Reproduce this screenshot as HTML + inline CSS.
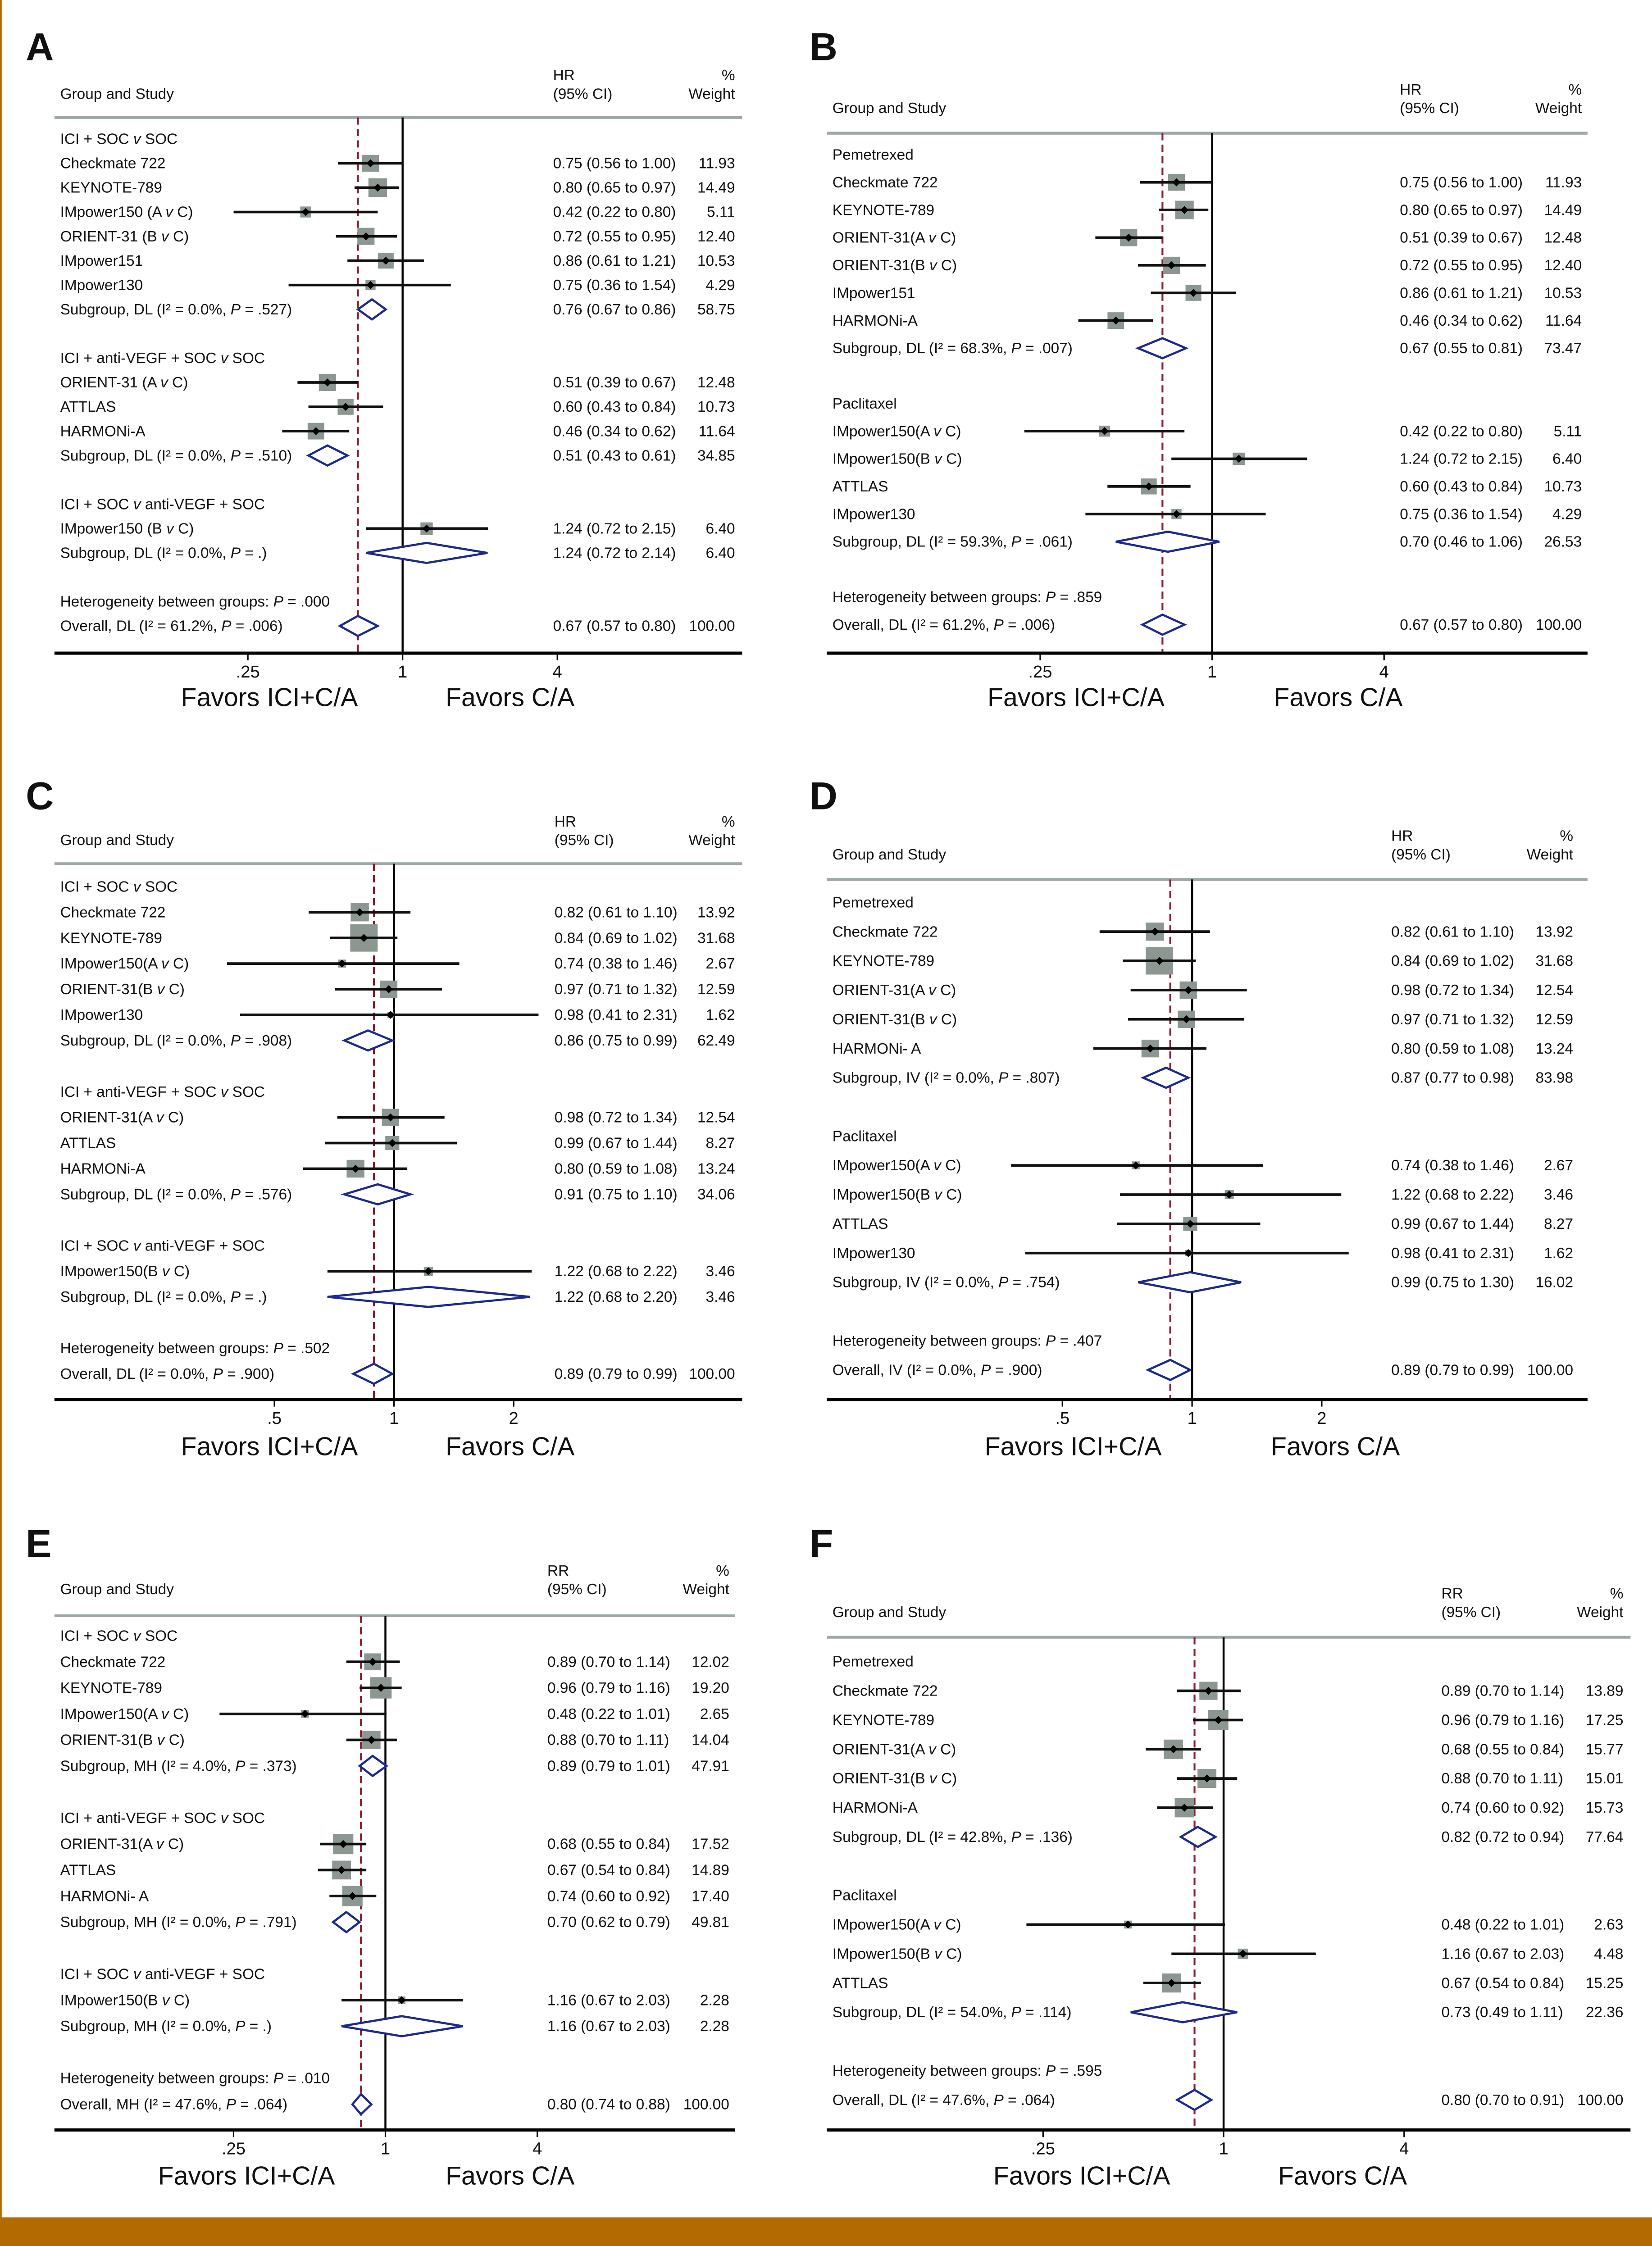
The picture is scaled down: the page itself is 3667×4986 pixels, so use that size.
<!DOCTYPE html>
<html><head><meta charset="utf-8">
<style>
html,body{margin:0;padding:0;background:#fff;}
svg{display:block;}
text{font-family:"Liberation Sans Narrow","Liberation Sans",sans-serif;fill:#111;}
.pl{font-family:"Liberation Sans",sans-serif;font-weight:bold;font-size:27px;}
</style></head>
<body>
<svg id="fig" width="3667" height="4986" viewBox="0 0 1153 1568" preserveAspectRatio="none" xmlns="http://www.w3.org/2000/svg">
<rect x="0" y="0" width="1153" height="1568" fill="#fff"/>
<rect x="0" y="1548" width="1153" height="20" fill="#b36a00"/>
<rect x="0" y="0" width="1.2" height="1568" fill="#b36a00"/>
</svg>
<script>
// ---------- Data (per panel) ----------
const aKinds = ['g','s','s','s','s','s','s','d','b','g','s','s','s','d','b','g','s','d','b','h','o'];
const aLabels = ['ICI + SOC _v_ SOC','Checkmate 722','KEYNOTE-789','IMpower150 (A _v_ C)','ORIENT-31 (B _v_ C)','IMpower151','IMpower130','Subgroup, DL (I² = 0.0%, _P_ = .527)','','ICI + anti-VEGF + SOC _v_ SOC','ORIENT-31 (A _v_ C)','ATTLAS','HARMONi-A','Subgroup, DL (I² = 0.0%, _P_ = .510)','','ICI + SOC _v_ anti-VEGF + SOC','IMpower150 (B _v_ C)','Subgroup, DL (I² = 0.0%, _P_ = .)','','Heterogeneity between groups: _P_ = .000','Overall, DL (I² = 61.2%, _P_ = .006)'];
const aEst = [null,0.75,0.80,0.42,0.72,0.86,0.75,0.76,null,null,0.51,0.60,0.46,0.51,null,null,1.24,1.24,null,null,0.67];
const aLo  = [null,0.56,0.65,0.22,0.55,0.61,0.36,0.67,null,null,0.39,0.43,0.34,0.43,null,null,0.72,0.72,null,null,0.57];
const aHi  = [null,1.00,0.97,0.80,0.95,1.21,1.54,0.86,null,null,0.67,0.84,0.62,0.61,null,null,2.15,2.14,null,null,0.80];
const aWt  = [null,11.93,14.49,5.11,12.40,10.53,4.29,58.75,null,null,12.48,10.73,11.64,34.85,null,null,6.40,6.40,null,null,100.00];
const aTicks = [0.25,1,4];
const aTickLabels = ['.25','1','4'];

const bKinds = ['g','s','s','s','s','s','s','d','b','g','s','s','s','s','d','b','h','o'];
const bLabels = ['Pemetrexed','Checkmate 722','KEYNOTE-789','ORIENT-31(A _v_ C)','ORIENT-31(B _v_ C)','IMpower151','HARMONi-A','Subgroup, DL (I² = 68.3%, _P_ = .007)','','Paclitaxel','IMpower150(A _v_ C)','IMpower150(B _v_ C)','ATTLAS','IMpower130','Subgroup, DL (I² = 59.3%, _P_ = .061)','','Heterogeneity between groups: _P_ = .859','Overall, DL (I² = 61.2%, _P_ = .006)'];
const bEst = [null,0.75,0.80,0.51,0.72,0.86,0.46,0.67,null,null,0.42,1.24,0.60,0.75,0.70,null,null,0.67];
const bLo  = [null,0.56,0.65,0.39,0.55,0.61,0.34,0.55,null,null,0.22,0.72,0.43,0.36,0.46,null,null,0.57];
const bHi  = [null,1.00,0.97,0.67,0.95,1.21,0.62,0.81,null,null,0.80,2.15,0.84,1.54,1.06,null,null,0.80];
const bWt  = [null,11.93,14.49,12.48,12.40,10.53,11.64,73.47,null,null,5.11,6.40,10.73,4.29,26.53,null,null,100.00];
const bTicks = [0.25,1,4];
const bTickLabels = ['.25','1','4'];

const cKinds = ['g','s','s','s','s','s','d','b','g','s','s','s','d','b','g','s','d','b','h','o'];
const cLabels = ['ICI + SOC _v_ SOC','Checkmate 722','KEYNOTE-789','IMpower150(A _v_ C)','ORIENT-31(B _v_ C)','IMpower130','Subgroup, DL (I² = 0.0%, _P_ = .908)','','ICI + anti-VEGF + SOC _v_ SOC','ORIENT-31(A _v_ C)','ATTLAS','HARMONi-A','Subgroup, DL (I² = 0.0%, _P_ = .576)','','ICI + SOC _v_ anti-VEGF + SOC','IMpower150(B _v_ C)','Subgroup, DL (I² = 0.0%, _P_ = .)','','Heterogeneity between groups: _P_ = .502','Overall, DL (I² = 0.0%, _P_ = .900)'];
const cEst = [null,0.82,0.84,0.74,0.97,0.98,0.86,null,null,0.98,0.99,0.80,0.91,null,null,1.22,1.22,null,null,0.89];
const cLo  = [null,0.61,0.69,0.38,0.71,0.41,0.75,null,null,0.72,0.67,0.59,0.75,null,null,0.68,0.68,null,null,0.79];
const cHi  = [null,1.10,1.02,1.46,1.32,2.31,0.99,null,null,1.34,1.44,1.08,1.10,null,null,2.22,2.20,null,null,0.99];
const cWt  = [null,13.92,31.68,2.67,12.59,1.62,62.49,null,null,12.54,8.27,13.24,34.06,null,null,3.46,3.46,null,null,100.00];
const cTicks = [0.5,1,2];
const cTickLabels = ['.5','1','2'];

const dKinds = ['g','s','s','s','s','s','d','b','g','s','s','s','s','d','b','h','o'];
const dLabels = ['Pemetrexed','Checkmate 722','KEYNOTE-789','ORIENT-31(A _v_ C)','ORIENT-31(B _v_ C)','HARMONi- A','Subgroup, IV (I² = 0.0%, _P_ = .807)','','Paclitaxel','IMpower150(A _v_ C)','IMpower150(B _v_ C)','ATTLAS','IMpower130','Subgroup, IV (I² = 0.0%, _P_ = .754)','','Heterogeneity between groups: _P_ = .407','Overall, IV (I² = 0.0%, _P_ = .900)'];
const dEst = [null,0.82,0.84,0.98,0.97,0.80,0.87,null,null,0.74,1.22,0.99,0.98,0.99,null,null,0.89];
const dLo  = [null,0.61,0.69,0.72,0.71,0.59,0.77,null,null,0.38,0.68,0.67,0.41,0.75,null,null,0.79];
const dHi  = [null,1.10,1.02,1.34,1.32,1.08,0.98,null,null,1.46,2.22,1.44,2.31,1.30,null,null,0.99];
const dWt  = [null,13.92,31.68,12.54,12.59,13.24,83.98,null,null,2.67,3.46,8.27,1.62,16.02,null,null,100.00];
const dTicks = [0.5,1,2];
const dTickLabels = ['.5','1','2'];

const eKinds = ['g','s','s','s','s','d','b','g','s','s','s','d','b','g','s','d','b','h','o'];
const eLabels = ['ICI + SOC _v_ SOC','Checkmate 722','KEYNOTE-789','IMpower150(A _v_ C)','ORIENT-31(B _v_ C)','Subgroup, MH (I² = 4.0%, _P_ = .373)','','ICI + anti-VEGF + SOC _v_ SOC','ORIENT-31(A _v_ C)','ATTLAS','HARMONi- A','Subgroup, MH (I² = 0.0%, _P_ = .791)','','ICI + SOC _v_ anti-VEGF + SOC','IMpower150(B _v_ C)','Subgroup, MH (I² = 0.0%, _P_ = .)','','Heterogeneity between groups: _P_ = .010','Overall, MH (I² = 47.6%, _P_ = .064)'];
const eEst = [null,0.89,0.96,0.48,0.88,0.89,null,null,0.68,0.67,0.74,0.70,null,null,1.16,1.16,null,null,0.80];
const eLo  = [null,0.70,0.79,0.22,0.70,0.79,null,null,0.55,0.54,0.60,0.62,null,null,0.67,0.67,null,null,0.74];
const eHi  = [null,1.14,1.16,1.01,1.11,1.01,null,null,0.84,0.84,0.92,0.79,null,null,2.03,2.03,null,null,0.88];
const eWt  = [null,12.02,19.20,2.65,14.04,47.91,null,null,17.52,14.89,17.40,49.81,null,null,2.28,2.28,null,null,100.00];
const eTicks = [0.25,1,4];
const eTickLabels = ['.25','1','4'];

const fKinds = ['g','s','s','s','s','s','d','b','g','s','s','s','d','b','h','o'];
const fLabels = ['Pemetrexed','Checkmate 722','KEYNOTE-789','ORIENT-31(A _v_ C)','ORIENT-31(B _v_ C)','HARMONi-A','Subgroup, DL (I² = 42.8%, _P_ = .136)','','Paclitaxel','IMpower150(A _v_ C)','IMpower150(B _v_ C)','ATTLAS','Subgroup, DL (I² = 54.0%, _P_ = .114)','','Heterogeneity between groups: _P_ = .595','Overall, DL (I² = 47.6%, _P_ = .064)'];
const fEst = [null,0.89,0.96,0.68,0.88,0.74,0.82,null,null,0.48,1.16,0.67,0.73,null,null,0.80];
const fLo  = [null,0.70,0.79,0.55,0.70,0.60,0.72,null,null,0.22,0.67,0.54,0.49,null,null,0.70];
const fHi  = [null,1.14,1.16,0.84,1.11,0.92,0.94,null,null,1.01,2.03,0.84,1.11,null,null,0.91];
const fWt  = [null,13.89,17.25,15.77,15.01,15.73,77.64,null,null,2.63,4.48,15.25,22.36,null,null,100.00];
const fTicks = [0.25,1,4];
const fTickLabels = ['.25','1','4'];

// ---------- Layout ----------
const panels = [
 {id:'a',letter:'A',kinds:aKinds,labels:aLabels,est:aEst,lo:aLo,hi:aHi,wt:aWt,ticks:aTicks,tl:aTickLabels,measure:'HR',
  lx:18,ly:42,tx:42,xL:38,xR:518,headY:69,hrX:386,pctX:513,lineY:82,rowTop:97,step:17,axisY:456,nullX:281,pd:54,favY:493,favL:188,favR:356},
 {id:'b',letter:'B',kinds:bKinds,labels:bLabels,est:bEst,lo:bLo,hi:bHi,wt:bWt,ticks:bTicks,tl:bTickLabels,measure:'HR',
  lx:565,ly:42,tx:581,xL:577,xR:1108,headY:79,hrX:977,pctX:1104,lineY:93,rowTop:108,step:19.3,axisY:456,nullX:846,pd:60,favY:493,favL:751,favR:934},
 {id:'c',letter:'C',kinds:cKinds,labels:cLabels,est:cEst,lo:cLo,hi:cHi,wt:cWt,ticks:cTicks,tl:cTickLabels,measure:'HR',
  lx:18,ly:565,tx:42,xL:38,xR:518,headY:590,hrX:387,pctX:513,lineY:603,rowTop:619,step:17.9,axisY:977,nullX:275,pd:83.5,favY:1016,favL:188,favR:356},
 {id:'d',letter:'D',kinds:dKinds,labels:dLabels,est:dEst,lo:dLo,hi:dHi,wt:dWt,ticks:dTicks,tl:dTickLabels,measure:'HR',
  lx:565,ly:565,tx:581,xL:577,xR:1108,headY:600,hrX:971,pctX:1098,lineY:614,rowTop:630,step:20.4,axisY:977,nullX:832,pd:90.5,favY:1016,favL:749,favR:932},
 {id:'e',letter:'E',kinds:eKinds,labels:eLabels,est:eEst,lo:eLo,hi:eHi,wt:eWt,ticks:eTicks,tl:eTickLabels,measure:'RR',
  lx:18,ly:1087,tx:42,xL:38,xR:513,headY:1113,hrX:382,pctX:509,lineY:1128,rowTop:1142,step:18.17,axisY:1487,nullX:269,pd:53,favY:1525,favL:172,favR:356},
 {id:'f',letter:'F',kinds:fKinds,labels:fLabels,est:fEst,lo:fLo,hi:fHi,wt:fWt,ticks:fTicks,tl:fTickLabels,measure:'RR',
  lx:565,ly:1087,tx:581,xL:577,xR:1138,headY:1129,hrX:1006,pctX:1133,lineY:1143,rowTop:1160,step:20.4,axisY:1487,nullX:854,pd:63,favY:1525,favL:755,favR:937}
];

const NS='http://www.w3.org/2000/svg';
const svg=document.getElementById('fig');
function mk(tag, attrs, parent){
  const el=document.createElementNS(NS,tag);
  for(const k in attrs) el.setAttribute(k,attrs[k]);
  (parent||svg).appendChild(el);
  return el;
}
function richText(el, s){
  const parts=s.split('_');
  parts.forEach((p,i)=>{
    if(!p) return;
    const t=document.createElementNS(NS,'tspan');
    if(i%2===1) t.setAttribute('font-style','italic');
    t.textContent=p;
    el.appendChild(t);
  });
}
const fmt=v=>v.toFixed(2);

panels.forEach(P=>{
  const g=mk('g',{});
  
  
  const xs=v=>P.nullX+Math.log2(v)*P.pd;
  const ys=i=>P.rowTop+i*P.step;

  const lab=mk('text',{x:P.lx,y:P.ly,'class':'pl'},g);
  
  
  lab.textContent=P.letter;

  const h1=mk('text',{x:P.tx,y:P.headY,'font-size':10.5},g);
  
  
  h1.textContent='Group and Study';
  const h2=mk('text',{x:P.hrX,y:P.headY-13,'font-size':10.5},g);
  
  
  h2.textContent=P.measure;
  const h3=mk('text',{x:P.hrX,y:P.headY,'font-size':10.5},g);
  
  
  h3.textContent='(95% CI)';
  const h4=mk('text',{x:P.pctX,y:P.headY-13,'font-size':10.5,'text-anchor':'end'},g);
  
  
  h4.textContent='%';
  const h5=mk('text',{x:P.pctX,y:P.headY,'font-size':10.5,'text-anchor':'end'},g);
  
  
  h5.textContent='Weight';

  const hl=mk('line',{x1:P.xL,x2:P.xR,y1:P.lineY,y2:P.lineY,stroke:'#9ea8a8','stroke-width':2},g);
  
  

  const nl=mk('line',{x1:P.nullX,x2:P.nullX,y1:P.lineY,y2:P.axisY,stroke:'#000','stroke-width':1.4},g);
  
  

  const oi=P.kinds.indexOf('o');
  const dx=xs(P.est[oi]);
  const dl=mk('line',{x1:dx,x2:dx,y1:P.lineY,y2:P.axisY,stroke:'#8b1a2e','stroke-width':1.3,'stroke-dasharray':'5,3'},g);
  
  

  const ax=mk('line',{x1:P.xL,x2:P.xR,y1:P.axisY,y2:P.axisY,stroke:'#000','stroke-width':2.2},g);
  
  
  P.ticks.forEach((t,k)=>{
    const tk=mk('line',{x1:xs(t),x2:xs(t),y1:P.axisY,y2:P.axisY+5,stroke:'#000','stroke-width':1},g);
    
    
    const tt=mk('text',{x:xs(t),y:P.axisY+17,'font-size':12,'text-anchor':'middle'},g);
    
    
    tt.textContent=P.tl[k];
  });
  const fl=mk('text',{x:P.favL,y:P.favY,'font-size':18,'text-anchor':'middle'},g);
  
  
  fl.textContent='Favors ICI+C/A';
  const fr=mk('text',{x:P.favR,y:P.favY,'font-size':18,'text-anchor':'middle'},g);
  
  
  fr.textContent='Favors C/A';

  P.kinds.forEach((k,i)=>{
    if(k==='b') return;
    const y=ys(i);
    const tx=mk('text',{x:P.tx,y:y+3.5,'font-size':10.5},g);
    
    
    richText(tx,P.labels[i]);
    if(P.est[i]==null) return;
    const ci=mk('text',{x:P.hrX,y:y+3.5,'font-size':10.5},g);
    
    
    ci.textContent=fmt(P.est[i])+' ('+fmt(P.lo[i])+' to '+fmt(P.hi[i])+')';
    const wt=mk('text',{x:P.pctX,y:y+3.5,'font-size':10.5,'text-anchor':'end'},g);
    
    
    wt.textContent=fmt(P.wt[i]);
    const xe=xs(P.est[i]), xl=xs(P.lo[i]), xh=xs(P.hi[i]);
    if(k==='s'){
      const s=Math.sqrt(P.wt[i])*3.4;
      const sq=mk('rect',{x:xe-s/2,y:y-s/2,width:s,height:s,fill:'#8c9792'},g);
      
      
      const wl=mk('line',{x1:xl,x2:xh,y1:y,y2:y,stroke:'#111','stroke-width':1.8},g);
      
      
      const pt=mk('path',{d:`M${xe-2.8},${y}L${xe},${y-2.8}L${xe+2.8},${y}L${xe},${y+2.8}Z`,fill:'#000'},g);
      
      
    } else {
      const dm=mk('path',{d:`M${xl},${y}L${xe},${y-7}L${xh},${y}L${xe},${y+7}Z`,fill:'#fff',stroke:'#1c2a8e','stroke-width':1.5},g);
      
      
    }
  });
});
</script>
</body></html>
